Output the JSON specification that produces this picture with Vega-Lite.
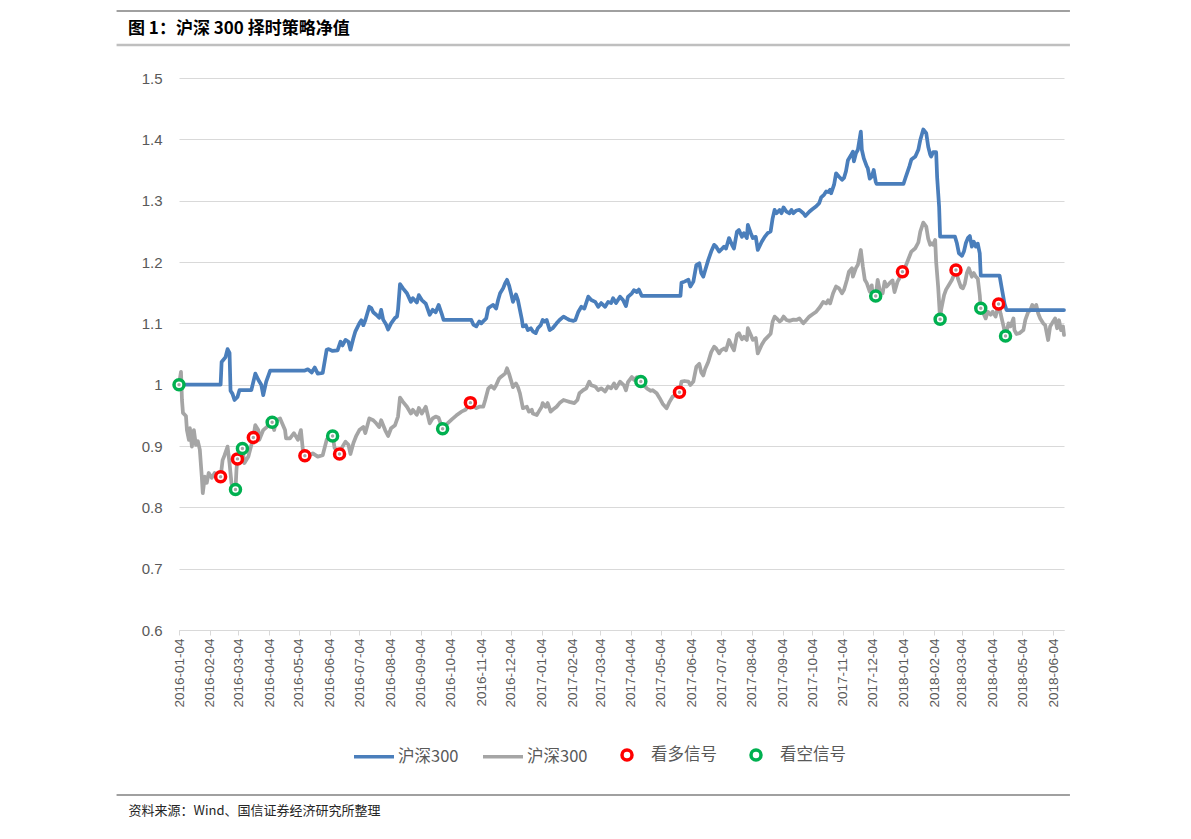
{
  "$schema": "https://vega.github.io/schema/vega-lite/v6.json",
  "width": 885,
  "height": 552,
  "autosize": {"type": "none"},
  "padding": {"left": 179, "top": 78, "right": 127, "bottom": 209},
  "background": "white",
  "title": {
    "text": "图 1：沪深 300 择时策略净值",
    "anchor": "start",
    "frame": "group",
    "dx": -51,
    "offset": 0,
    "dy": 28,
    "font": "Noto Sans CJK SC",
    "fontSize": 17,
    "fontWeight": "bold",
    "color": "#000000"
  },
  "datasets": {
    "strategy": [
      {"date": "2016-01-04", "value": 1.0}, {"date": "2016-02-15", "value": 1.0}, {"date": "2016-02-16", "value": 1.037}, {"date": "2016-02-20", "value": 1.045}, {"date": "2016-02-22", "value": 1.058}, {"date": "2016-02-24", "value": 1.052}, {"date": "2016-02-25", "value": 0.99}, {"date": "2016-02-27", "value": 0.985}, {"date": "2016-02-29", "value": 0.975}, {"date": "2016-03-03", "value": 0.98}, {"date": "2016-03-05", "value": 0.991}, {"date": "2016-03-17", "value": 0.991}, {"date": "2016-03-21", "value": 1.018}, {"date": "2016-03-24", "value": 1.008}, {"date": "2016-03-27", "value": 1.0}, {"date": "2016-03-29", "value": 0.983}, {"date": "2016-04-01", "value": 1.005}, {"date": "2016-04-05", "value": 1.023}, {"date": "2016-05-10", "value": 1.023}, {"date": "2016-05-13", "value": 1.025}, {"date": "2016-05-17", "value": 1.02}, {"date": "2016-05-20", "value": 1.028}, {"date": "2016-05-23", "value": 1.018}, {"date": "2016-05-28", "value": 1.019}, {"date": "2016-06-01", "value": 1.057}, {"date": "2016-06-03", "value": 1.058}, {"date": "2016-06-07", "value": 1.055}, {"date": "2016-06-12", "value": 1.056}, {"date": "2016-06-15", "value": 1.07}, {"date": "2016-06-17", "value": 1.064}, {"date": "2016-06-20", "value": 1.073}, {"date": "2016-06-23", "value": 1.07}, {"date": "2016-06-25", "value": 1.057}, {"date": "2016-06-28", "value": 1.076}, {"date": "2016-06-30", "value": 1.087}, {"date": "2016-07-04", "value": 1.1}, {"date": "2016-07-06", "value": 1.105}, {"date": "2016-07-08", "value": 1.097}, {"date": "2016-07-10", "value": 1.105}, {"date": "2016-07-14", "value": 1.127}, {"date": "2016-07-16", "value": 1.125}, {"date": "2016-07-18", "value": 1.118}, {"date": "2016-07-21", "value": 1.114}, {"date": "2016-07-24", "value": 1.109}, {"date": "2016-07-26", "value": 1.122}, {"date": "2016-07-28", "value": 1.106}, {"date": "2016-07-31", "value": 1.098}, {"date": "2016-08-02", "value": 1.09}, {"date": "2016-08-05", "value": 1.1}, {"date": "2016-08-09", "value": 1.109}, {"date": "2016-08-11", "value": 1.111}, {"date": "2016-08-12", "value": 1.122}, {"date": "2016-08-14", "value": 1.164}, {"date": "2016-08-17", "value": 1.157}, {"date": "2016-08-21", "value": 1.149}, {"date": "2016-08-25", "value": 1.135}, {"date": "2016-08-27", "value": 1.141}, {"date": "2016-08-31", "value": 1.134}, {"date": "2016-09-02", "value": 1.146}, {"date": "2016-09-05", "value": 1.138}, {"date": "2016-09-09", "value": 1.132}, {"date": "2016-09-13", "value": 1.114}, {"date": "2016-09-16", "value": 1.122}, {"date": "2016-09-19", "value": 1.118}, {"date": "2016-09-22", "value": 1.13}, {"date": "2016-09-25", "value": 1.116}, {"date": "2016-09-27", "value": 1.1055}, {"date": "2016-10-25", "value": 1.1055}, {"date": "2016-10-27", "value": 1.098}, {"date": "2016-10-30", "value": 1.095}, {"date": "2016-11-02", "value": 1.103}, {"date": "2016-11-04", "value": 1.1}, {"date": "2016-11-07", "value": 1.105}, {"date": "2016-11-09", "value": 1.108}, {"date": "2016-11-11", "value": 1.1245}, {"date": "2016-11-13", "value": 1.127}, {"date": "2016-11-16", "value": 1.13}, {"date": "2016-11-19", "value": 1.124}, {"date": "2016-11-21", "value": 1.138}, {"date": "2016-11-23", "value": 1.149}, {"date": "2016-11-26", "value": 1.157}, {"date": "2016-11-28", "value": 1.165}, {"date": "2016-11-30", "value": 1.171}, {"date": "2016-12-02", "value": 1.162}, {"date": "2016-12-04", "value": 1.149}, {"date": "2016-12-06", "value": 1.135}, {"date": "2016-12-09", "value": 1.147}, {"date": "2016-12-11", "value": 1.138}, {"date": "2016-12-13", "value": 1.122}, {"date": "2016-12-15", "value": 1.106}, {"date": "2016-12-16", "value": 1.095}, {"date": "2016-12-19", "value": 1.097}, {"date": "2016-12-21", "value": 1.089}, {"date": "2016-12-24", "value": 1.092}, {"date": "2016-12-26", "value": 1.087}, {"date": "2016-12-29", "value": 1.084}, {"date": "2016-12-31", "value": 1.092}, {"date": "2017-01-03", "value": 1.097}, {"date": "2017-01-05", "value": 1.1055}, {"date": "2017-01-07", "value": 1.103}, {"date": "2017-01-09", "value": 1.1055}, {"date": "2017-01-12", "value": 1.089}, {"date": "2017-01-15", "value": 1.092}, {"date": "2017-01-19", "value": 1.1}, {"date": "2017-01-22", "value": 1.1055}, {"date": "2017-01-26", "value": 1.111}, {"date": "2017-01-29", "value": 1.108}, {"date": "2017-02-01", "value": 1.1055}, {"date": "2017-02-05", "value": 1.104}, {"date": "2017-02-07", "value": 1.1055}, {"date": "2017-02-10", "value": 1.119}, {"date": "2017-02-13", "value": 1.127}, {"date": "2017-02-16", "value": 1.124}, {"date": "2017-02-20", "value": 1.1435}, {"date": "2017-02-23", "value": 1.138}, {"date": "2017-02-27", "value": 1.135}, {"date": "2017-03-02", "value": 1.127}, {"date": "2017-03-05", "value": 1.133}, {"date": "2017-03-09", "value": 1.127}, {"date": "2017-03-12", "value": 1.135}, {"date": "2017-03-15", "value": 1.133}, {"date": "2017-03-17", "value": 1.141}, {"date": "2017-03-20", "value": 1.133}, {"date": "2017-03-24", "value": 1.1435}, {"date": "2017-03-27", "value": 1.138}, {"date": "2017-03-30", "value": 1.128}, {"date": "2017-04-01", "value": 1.143}, {"date": "2017-04-05", "value": 1.149}, {"date": "2017-04-07", "value": 1.154}, {"date": "2017-04-10", "value": 1.151}, {"date": "2017-04-12", "value": 1.155}, {"date": "2017-04-15", "value": 1.1446}, {"date": "2017-05-24", "value": 1.1446}, {"date": "2017-05-25", "value": 1.166}, {"date": "2017-05-28", "value": 1.168}, {"date": "2017-06-01", "value": 1.171}, {"date": "2017-06-03", "value": 1.16}, {"date": "2017-06-06", "value": 1.168}, {"date": "2017-06-09", "value": 1.195}, {"date": "2017-06-12", "value": 1.198}, {"date": "2017-06-14", "value": 1.182}, {"date": "2017-06-16", "value": 1.176}, {"date": "2017-06-18", "value": 1.187}, {"date": "2017-06-21", "value": 1.203}, {"date": "2017-06-24", "value": 1.217}, {"date": "2017-06-27", "value": 1.228}, {"date": "2017-06-29", "value": 1.225}, {"date": "2017-07-02", "value": 1.217}, {"date": "2017-07-04", "value": 1.22}, {"date": "2017-07-07", "value": 1.225}, {"date": "2017-07-09", "value": 1.222}, {"date": "2017-07-12", "value": 1.239}, {"date": "2017-07-15", "value": 1.228}, {"date": "2017-07-17", "value": 1.222}, {"date": "2017-07-20", "value": 1.2495}, {"date": "2017-07-22", "value": 1.252}, {"date": "2017-07-25", "value": 1.241}, {"date": "2017-07-27", "value": 1.247}, {"date": "2017-07-30", "value": 1.239}, {"date": "2017-07-31", "value": 1.2604}, {"date": "2017-08-03", "value": 1.247}, {"date": "2017-08-05", "value": 1.239}, {"date": "2017-08-08", "value": 1.241}, {"date": "2017-08-10", "value": 1.2197}, {"date": "2017-08-14", "value": 1.233}, {"date": "2017-08-17", "value": 1.241}, {"date": "2017-08-20", "value": 1.247}, {"date": "2017-08-23", "value": 1.25}, {"date": "2017-08-25", "value": 1.2712}, {"date": "2017-08-27", "value": 1.285}, {"date": "2017-08-29", "value": 1.2795}, {"date": "2017-09-01", "value": 1.285}, {"date": "2017-09-03", "value": 1.2795}, {"date": "2017-09-05", "value": 1.289}, {"date": "2017-09-08", "value": 1.282}, {"date": "2017-09-11", "value": 1.2795}, {"date": "2017-09-13", "value": 1.285}, {"date": "2017-09-15", "value": 1.2795}, {"date": "2017-09-18", "value": 1.284}, {"date": "2017-09-21", "value": 1.285}, {"date": "2017-09-25", "value": 1.2795}, {"date": "2017-09-27", "value": 1.275}, {"date": "2017-10-01", "value": 1.282}, {"date": "2017-10-04", "value": 1.286}, {"date": "2017-10-08", "value": 1.291}, {"date": "2017-10-11", "value": 1.296}, {"date": "2017-10-13", "value": 1.3055}, {"date": "2017-10-16", "value": 1.31}, {"date": "2017-10-18", "value": 1.315}, {"date": "2017-10-20", "value": 1.314}, {"date": "2017-10-22", "value": 1.318}, {"date": "2017-10-23", "value": 1.312}, {"date": "2017-10-26", "value": 1.326}, {"date": "2017-10-28", "value": 1.3446}, {"date": "2017-10-31", "value": 1.339}, {"date": "2017-11-03", "value": 1.334}, {"date": "2017-11-05", "value": 1.337}, {"date": "2017-11-07", "value": 1.348}, {"date": "2017-11-09", "value": 1.366}, {"date": "2017-11-12", "value": 1.374}, {"date": "2017-11-14", "value": 1.38}, {"date": "2017-11-15", "value": 1.364}, {"date": "2017-11-17", "value": 1.377}, {"date": "2017-11-19", "value": 1.383}, {"date": "2017-11-22", "value": 1.4125}, {"date": "2017-11-23", "value": 1.383}, {"date": "2017-11-25", "value": 1.369}, {"date": "2017-11-28", "value": 1.356}, {"date": "2017-11-29", "value": 1.353}, {"date": "2017-12-01", "value": 1.336}, {"date": "2017-12-03", "value": 1.339}, {"date": "2017-12-05", "value": 1.35}, {"date": "2017-12-07", "value": 1.331}, {"date": "2017-12-08", "value": 1.3272}, {"date": "2018-01-04", "value": 1.3272}, {"date": "2018-01-06", "value": 1.337}, {"date": "2018-01-10", "value": 1.356}, {"date": "2018-01-12", "value": 1.367}, {"date": "2018-01-16", "value": 1.372}, {"date": "2018-01-19", "value": 1.383}, {"date": "2018-01-21", "value": 1.399}, {"date": "2018-01-24", "value": 1.416}, {"date": "2018-01-27", "value": 1.41}, {"date": "2018-01-29", "value": 1.388}, {"date": "2018-01-31", "value": 1.375}, {"date": "2018-02-01", "value": 1.372}, {"date": "2018-02-03", "value": 1.379}, {"date": "2018-02-06", "value": 1.379}, {"date": "2018-02-07", "value": 1.338}, {"date": "2018-02-09", "value": 1.29}, {"date": "2018-02-10", "value": 1.2413}, {"date": "2018-02-25", "value": 1.2413}, {"date": "2018-02-27", "value": 1.23}, {"date": "2018-03-01", "value": 1.214}, {"date": "2018-03-04", "value": 1.21}, {"date": "2018-03-06", "value": 1.217}, {"date": "2018-03-08", "value": 1.231}, {"date": "2018-03-10", "value": 1.239}, {"date": "2018-03-12", "value": 1.2424}, {"date": "2018-03-14", "value": 1.225}, {"date": "2018-03-16", "value": 1.233}, {"date": "2018-03-18", "value": 1.225}, {"date": "2018-03-20", "value": 1.23}, {"date": "2018-03-22", "value": 1.214}, {"date": "2018-03-23", "value": 1.1777}, {"date": "2018-04-11", "value": 1.1777}, {"date": "2018-04-13", "value": 1.159}, {"date": "2018-04-16", "value": 1.132}, {"date": "2018-04-18", "value": 1.1217}, {"date": "2018-06-15", "value": 1.1217}
    ],
    "csi300": [
      {"date": "2016-01-04", "value": 1.0}, {"date": "2016-01-06", "value": 1.021}, {"date": "2016-01-07", "value": 0.975}, {"date": "2016-01-08", "value": 0.954}, {"date": "2016-01-11", "value": 0.949}, {"date": "2016-01-12", "value": 0.926}, {"date": "2016-01-14", "value": 0.91}, {"date": "2016-01-15", "value": 0.929}, {"date": "2016-01-17", "value": 0.899}, {"date": "2016-01-19", "value": 0.926}, {"date": "2016-01-21", "value": 0.902}, {"date": "2016-01-23", "value": 0.908}, {"date": "2016-01-25", "value": 0.894}, {"date": "2016-01-27", "value": 0.85}, {"date": "2016-01-28", "value": 0.823}, {"date": "2016-01-30", "value": 0.85}, {"date": "2016-02-01", "value": 0.84}, {"date": "2016-02-03", "value": 0.856}, {"date": "2016-02-06", "value": 0.848}, {"date": "2016-02-09", "value": 0.856}, {"date": "2016-02-12", "value": 0.85}, {"date": "2016-02-15", "value": 0.85}, {"date": "2016-02-17", "value": 0.877}, {"date": "2016-02-19", "value": 0.885}, {"date": "2016-02-22", "value": 0.899}, {"date": "2016-02-24", "value": 0.872}, {"date": "2016-02-26", "value": 0.839}, {"date": "2016-03-01", "value": 0.829}, {"date": "2016-03-02", "value": 0.862}, {"date": "2016-03-03", "value": 0.879}, {"date": "2016-03-05", "value": 0.885}, {"date": "2016-03-08", "value": 0.896}, {"date": "2016-03-10", "value": 0.872}, {"date": "2016-03-14", "value": 0.883}, {"date": "2016-03-19", "value": 0.914}, {"date": "2016-03-21", "value": 0.934}, {"date": "2016-03-24", "value": 0.926}, {"date": "2016-03-25", "value": 0.91}, {"date": "2016-03-29", "value": 0.926}, {"date": "2016-04-07", "value": 0.9386}, {"date": "2016-04-09", "value": 0.926}, {"date": "2016-04-11", "value": 0.942}, {"date": "2016-04-15", "value": 0.945}, {"date": "2016-04-20", "value": 0.926}, {"date": "2016-04-21", "value": 0.9125}, {"date": "2016-04-25", "value": 0.9125}, {"date": "2016-04-29", "value": 0.921}, {"date": "2016-05-03", "value": 0.91}, {"date": "2016-05-06", "value": 0.926}, {"date": "2016-05-08", "value": 0.8935}, {"date": "2016-05-10", "value": 0.884}, {"date": "2016-05-15", "value": 0.885}, {"date": "2016-05-18", "value": 0.888}, {"date": "2016-05-23", "value": 0.8826}, {"date": "2016-05-28", "value": 0.885}, {"date": "2016-06-01", "value": 0.91}, {"date": "2016-06-03", "value": 0.915}, {"date": "2016-06-07", "value": 0.9163}, {"date": "2016-06-09", "value": 0.897}, {"date": "2016-06-14", "value": 0.887}, {"date": "2016-06-17", "value": 0.899}, {"date": "2016-06-20", "value": 0.907}, {"date": "2016-06-23", "value": 0.902}, {"date": "2016-06-25", "value": 0.887}, {"date": "2016-06-28", "value": 0.905}, {"date": "2016-07-01", "value": 0.917}, {"date": "2016-07-04", "value": 0.926}, {"date": "2016-07-08", "value": 0.931}, {"date": "2016-07-10", "value": 0.921}, {"date": "2016-07-14", "value": 0.945}, {"date": "2016-07-18", "value": 0.942}, {"date": "2016-07-21", "value": 0.937}, {"date": "2016-07-24", "value": 0.931}, {"date": "2016-07-26", "value": 0.942}, {"date": "2016-07-30", "value": 0.926}, {"date": "2016-08-02", "value": 0.9163}, {"date": "2016-08-05", "value": 0.929}, {"date": "2016-08-09", "value": 0.934}, {"date": "2016-08-12", "value": 0.948}, {"date": "2016-08-14", "value": 0.979}, {"date": "2016-08-17", "value": 0.972}, {"date": "2016-08-21", "value": 0.964}, {"date": "2016-08-25", "value": 0.953}, {"date": "2016-08-27", "value": 0.959}, {"date": "2016-08-31", "value": 0.951}, {"date": "2016-09-02", "value": 0.962}, {"date": "2016-09-05", "value": 0.953}, {"date": "2016-09-09", "value": 0.964}, {"date": "2016-09-13", "value": 0.937}, {"date": "2016-09-16", "value": 0.945}, {"date": "2016-09-19", "value": 0.948}, {"date": "2016-09-22", "value": 0.946}, {"date": "2016-09-26", "value": 0.928}, {"date": "2016-10-01", "value": 0.937}, {"date": "2016-10-05", "value": 0.943}, {"date": "2016-10-10", "value": 0.95}, {"date": "2016-10-15", "value": 0.956}, {"date": "2016-10-19", "value": 0.959}, {"date": "2016-10-24", "value": 0.9707}, {"date": "2016-10-28", "value": 0.964}, {"date": "2016-10-30", "value": 0.9617}, {"date": "2016-11-02", "value": 0.964}, {"date": "2016-11-06", "value": 0.964}, {"date": "2016-11-08", "value": 0.975}, {"date": "2016-11-11", "value": 0.9935}, {"date": "2016-11-14", "value": 0.998}, {"date": "2016-11-17", "value": 0.9935}, {"date": "2016-11-19", "value": 0.999}, {"date": "2016-11-22", "value": 1.01}, {"date": "2016-11-24", "value": 1.013}, {"date": "2016-11-28", "value": 1.018}, {"date": "2016-11-30", "value": 1.0267}, {"date": "2016-12-02", "value": 1.018}, {"date": "2016-12-04", "value": 1.007}, {"date": "2016-12-06", "value": 0.996}, {"date": "2016-12-09", "value": 1.002}, {"date": "2016-12-11", "value": 0.996}, {"date": "2016-12-13", "value": 0.986}, {"date": "2016-12-15", "value": 0.97}, {"date": "2016-12-16", "value": 0.9617}, {"date": "2016-12-20", "value": 0.964}, {"date": "2016-12-22", "value": 0.956}, {"date": "2016-12-25", "value": 0.959}, {"date": "2016-12-26", "value": 0.953}, {"date": "2016-12-30", "value": 0.9506}, {"date": "2017-01-01", "value": 0.956}, {"date": "2017-01-04", "value": 0.964}, {"date": "2017-01-05", "value": 0.97}, {"date": "2017-01-08", "value": 0.964}, {"date": "2017-01-10", "value": 0.97}, {"date": "2017-01-13", "value": 0.956}, {"date": "2017-01-15", "value": 0.959}, {"date": "2017-01-19", "value": 0.964}, {"date": "2017-01-22", "value": 0.97}, {"date": "2017-01-26", "value": 0.975}, {"date": "2017-01-30", "value": 0.973}, {"date": "2017-02-01", "value": 0.972}, {"date": "2017-02-06", "value": 0.97}, {"date": "2017-02-09", "value": 0.975}, {"date": "2017-02-11", "value": 0.986}, {"date": "2017-02-15", "value": 0.9913}, {"date": "2017-02-18", "value": 0.994}, {"date": "2017-02-21", "value": 1.005}, {"date": "2017-02-23", "value": 0.999}, {"date": "2017-02-27", "value": 0.997}, {"date": "2017-03-02", "value": 0.991}, {"date": "2017-03-05", "value": 0.994}, {"date": "2017-03-09", "value": 0.989}, {"date": "2017-03-12", "value": 0.997}, {"date": "2017-03-15", "value": 0.994}, {"date": "2017-03-18", "value": 1.002}, {"date": "2017-03-20", "value": 0.994}, {"date": "2017-03-24", "value": 1.005}, {"date": "2017-03-28", "value": 0.999}, {"date": "2017-03-30", "value": 0.991}, {"date": "2017-04-01", "value": 1.004}, {"date": "2017-04-05", "value": 1.0125}, {"date": "2017-04-07", "value": 1.008}, {"date": "2017-04-10", "value": 1.012}, {"date": "2017-04-14", "value": 1.005}, {"date": "2017-04-17", "value": 0.9995}, {"date": "2017-04-20", "value": 0.994}, {"date": "2017-04-24", "value": 0.99}, {"date": "2017-04-26", "value": 0.991}, {"date": "2017-04-30", "value": 0.986}, {"date": "2017-05-03", "value": 0.978}, {"date": "2017-05-06", "value": 0.969}, {"date": "2017-05-10", "value": 0.9614}, {"date": "2017-05-13", "value": 0.972}, {"date": "2017-05-16", "value": 0.9804}, {"date": "2017-05-19", "value": 0.983}, {"date": "2017-05-23", "value": 0.9877}, {"date": "2017-05-25", "value": 1.005}, {"date": "2017-05-28", "value": 1.006}, {"date": "2017-06-01", "value": 1.005}, {"date": "2017-06-03", "value": 0.9995}, {"date": "2017-06-06", "value": 1.005}, {"date": "2017-06-09", "value": 1.029}, {"date": "2017-06-12", "value": 1.034}, {"date": "2017-06-14", "value": 1.02}, {"date": "2017-06-16", "value": 1.015}, {"date": "2017-06-18", "value": 1.026}, {"date": "2017-06-21", "value": 1.037}, {"date": "2017-06-24", "value": 1.053}, {"date": "2017-06-27", "value": 1.062}, {"date": "2017-06-29", "value": 1.059}, {"date": "2017-07-02", "value": 1.051}, {"date": "2017-07-04", "value": 1.056}, {"date": "2017-07-07", "value": 1.059}, {"date": "2017-07-09", "value": 1.056}, {"date": "2017-07-12", "value": 1.0728}, {"date": "2017-07-15", "value": 1.062}, {"date": "2017-07-17", "value": 1.056}, {"date": "2017-07-20", "value": 1.081}, {"date": "2017-07-22", "value": 1.084}, {"date": "2017-07-25", "value": 1.074}, {"date": "2017-07-27", "value": 1.078}, {"date": "2017-07-30", "value": 1.073}, {"date": "2017-07-31", "value": 1.092}, {"date": "2017-08-03", "value": 1.081}, {"date": "2017-08-05", "value": 1.073}, {"date": "2017-08-08", "value": 1.076}, {"date": "2017-08-10", "value": 1.051}, {"date": "2017-08-14", "value": 1.065}, {"date": "2017-08-17", "value": 1.073}, {"date": "2017-08-20", "value": 1.078}, {"date": "2017-08-23", "value": 1.083}, {"date": "2017-08-25", "value": 1.1027}, {"date": "2017-08-27", "value": 1.111}, {"date": "2017-08-29", "value": 1.108}, {"date": "2017-09-01", "value": 1.103}, {"date": "2017-09-03", "value": 1.1055}, {"date": "2017-09-05", "value": 1.111}, {"date": "2017-09-08", "value": 1.1055}, {"date": "2017-09-11", "value": 1.104}, {"date": "2017-09-15", "value": 1.106}, {"date": "2017-09-18", "value": 1.1055}, {"date": "2017-09-21", "value": 1.108}, {"date": "2017-09-25", "value": 1.1}, {"date": "2017-09-28", "value": 1.1055}, {"date": "2017-10-01", "value": 1.111}, {"date": "2017-10-05", "value": 1.1155}, {"date": "2017-10-08", "value": 1.119}, {"date": "2017-10-12", "value": 1.127}, {"date": "2017-10-15", "value": 1.135}, {"date": "2017-10-18", "value": 1.1325}, {"date": "2017-10-20", "value": 1.1375}, {"date": "2017-10-22", "value": 1.1325}, {"date": "2017-10-25", "value": 1.149}, {"date": "2017-10-28", "value": 1.16}, {"date": "2017-10-31", "value": 1.157}, {"date": "2017-11-03", "value": 1.149}, {"date": "2017-11-05", "value": 1.1545}, {"date": "2017-11-08", "value": 1.171}, {"date": "2017-11-10", "value": 1.1843}, {"date": "2017-11-13", "value": 1.19}, {"date": "2017-11-14", "value": 1.176}, {"date": "2017-11-17", "value": 1.19}, {"date": "2017-11-19", "value": 1.1955}, {"date": "2017-11-22", "value": 1.2196}, {"date": "2017-11-24", "value": 1.193}, {"date": "2017-11-26", "value": 1.171}, {"date": "2017-11-28", "value": 1.1655}, {"date": "2017-12-01", "value": 1.1517}, {"date": "2017-12-03", "value": 1.162}, {"date": "2017-12-04", "value": 1.146}, {"date": "2017-12-07", "value": 1.1446}, {"date": "2017-12-09", "value": 1.171}, {"date": "2017-12-11", "value": 1.155}, {"date": "2017-12-14", "value": 1.149}, {"date": "2017-12-16", "value": 1.168}, {"date": "2017-12-18", "value": 1.16}, {"date": "2017-12-21", "value": 1.1655}, {"date": "2017-12-24", "value": 1.17}, {"date": "2017-12-26", "value": 1.151}, {"date": "2017-12-29", "value": 1.168}, {"date": "2017-12-31", "value": 1.1735}, {"date": "2018-01-03", "value": 1.184}, {"date": "2018-01-06", "value": 1.1925}, {"date": "2018-01-10", "value": 1.209}, {"date": "2018-01-12", "value": 1.217}, {"date": "2018-01-16", "value": 1.2225}, {"date": "2018-01-19", "value": 1.2318}, {"date": "2018-01-21", "value": 1.2495}, {"date": "2018-01-24", "value": 1.2643}, {"date": "2018-01-27", "value": 1.2576}, {"date": "2018-01-29", "value": 1.238}, {"date": "2018-01-31", "value": 1.228}, {"date": "2018-02-01", "value": 1.2305}, {"date": "2018-02-03", "value": 1.228}, {"date": "2018-02-05", "value": 1.236}, {"date": "2018-02-06", "value": 1.2}, {"date": "2018-02-08", "value": 1.16}, {"date": "2018-02-10", "value": 1.1066}, {"date": "2018-02-11", "value": 1.122}, {"date": "2018-02-14", "value": 1.146}, {"date": "2018-02-16", "value": 1.155}, {"date": "2018-02-19", "value": 1.163}, {"date": "2018-02-22", "value": 1.171}, {"date": "2018-02-26", "value": 1.187}, {"date": "2018-02-28", "value": 1.173}, {"date": "2018-03-03", "value": 1.159}, {"date": "2018-03-05", "value": 1.157}, {"date": "2018-03-07", "value": 1.165}, {"date": "2018-03-09", "value": 1.182}, {"date": "2018-03-11", "value": 1.19}, {"date": "2018-03-14", "value": 1.176}, {"date": "2018-03-16", "value": 1.182}, {"date": "2018-03-18", "value": 1.176}, {"date": "2018-03-20", "value": 1.173}, {"date": "2018-03-22", "value": 1.146}, {"date": "2018-03-23", "value": 1.1245}, {"date": "2018-03-25", "value": 1.119}, {"date": "2018-03-28", "value": 1.108}, {"date": "2018-03-30", "value": 1.119}, {"date": "2018-04-02", "value": 1.114}, {"date": "2018-04-04", "value": 1.119}, {"date": "2018-04-07", "value": 1.111}, {"date": "2018-04-10", "value": 1.1316}, {"date": "2018-04-12", "value": 1.116}, {"date": "2018-04-15", "value": 1.095}, {"date": "2018-04-17", "value": 1.0794}, {"date": "2018-04-20", "value": 1.1}, {"date": "2018-04-22", "value": 1.095}, {"date": "2018-04-25", "value": 1.108}, {"date": "2018-04-26", "value": 1.089}, {"date": "2018-04-28", "value": 1.0826}, {"date": "2018-05-01", "value": 1.084}, {"date": "2018-05-05", "value": 1.089}, {"date": "2018-05-07", "value": 1.1055}, {"date": "2018-05-10", "value": 1.119}, {"date": "2018-05-12", "value": 1.1215}, {"date": "2018-05-14", "value": 1.13}, {"date": "2018-05-17", "value": 1.1215}, {"date": "2018-05-18", "value": 1.13}, {"date": "2018-05-20", "value": 1.116}, {"date": "2018-05-22", "value": 1.108}, {"date": "2018-05-25", "value": 1.1}, {"date": "2018-05-27", "value": 1.097}, {"date": "2018-05-28", "value": 1.089}, {"date": "2018-05-30", "value": 1.0728}, {"date": "2018-06-01", "value": 1.095}, {"date": "2018-06-03", "value": 1.1}, {"date": "2018-06-06", "value": 1.108}, {"date": "2018-06-08", "value": 1.092}, {"date": "2018-06-10", "value": 1.105}, {"date": "2018-06-12", "value": 1.089}, {"date": "2018-06-14", "value": 1.095}, {"date": "2018-06-15", "value": 1.081}
    ],
    "signals": [
      {"date": "2016-01-04", "value": 1.0, "signal": "看空信号"},
      {"date": "2016-02-15", "value": 0.85, "signal": "看多信号"},
      {"date": "2016-03-01", "value": 0.829, "signal": "看空信号"},
      {"date": "2016-03-03", "value": 0.879, "signal": "看多信号"},
      {"date": "2016-03-08", "value": 0.896, "signal": "看空信号"},
      {"date": "2016-03-19", "value": 0.914, "signal": "看多信号"},
      {"date": "2016-04-07", "value": 0.9386, "signal": "看空信号"},
      {"date": "2016-05-10", "value": 0.884, "signal": "看多信号"},
      {"date": "2016-06-07", "value": 0.9163, "signal": "看空信号"},
      {"date": "2016-06-14", "value": 0.887, "signal": "看多信号"},
      {"date": "2016-09-26", "value": 0.928, "signal": "看空信号"},
      {"date": "2016-10-24", "value": 0.9707, "signal": "看多信号"},
      {"date": "2017-04-14", "value": 1.005, "signal": "看空信号"},
      {"date": "2017-05-23", "value": 0.9877, "signal": "看多信号"},
      {"date": "2017-12-07", "value": 1.1446, "signal": "看空信号"},
      {"date": "2018-01-03", "value": 1.184, "signal": "看多信号"},
      {"date": "2018-02-10", "value": 1.1066, "signal": "看空信号"},
      {"date": "2018-02-26", "value": 1.187, "signal": "看多信号"},
      {"date": "2018-03-23", "value": 1.1245, "signal": "看空信号"},
      {"date": "2018-04-10", "value": 1.1316, "signal": "看多信号"},
      {"date": "2018-04-17", "value": 1.0794, "signal": "看空信号"}
    ]
  },
  "layer": [
    {
      "data": {"values": [{}]},
      "mark": {"type": "rule", "color": "#808080", "strokeWidth": 1.3},
      "encoding": {
        "x": {"datum": {"year": 2015, "month": 11, "date": 2, "utc": true}, "type": "temporal"},
        "x2": {"datum": {"year": 2018, "month": 6, "date": 21, "utc": true}},
        "y": {"datum": 1.6092, "type": "quantitative"}
      }
    },
    {
      "data": {"values": [{}]},
      "mark": {"type": "rule", "color": "#BFBFBF", "strokeWidth": 2.5},
      "encoding": {
        "x": {"datum": {"year": 2015, "month": 11, "date": 2, "utc": true}, "type": "temporal"},
        "x2": {"datum": {"year": 2018, "month": 6, "date": 21, "utc": true}},
        "y": {"datum": 1.5538, "type": "quantitative"}
      }
    },
    {
      "data": {"values": [{}]},
      "mark": {"type": "rule", "color": "#808080", "strokeWidth": 1.3},
      "encoding": {
        "x": {"datum": {"year": 2015, "month": 11, "date": 2, "utc": true}, "type": "temporal"},
        "x2": {"datum": {"year": 2018, "month": 6, "date": 21, "utc": true}},
        "y": {"datum": 0.331, "type": "quantitative"}
      }
    },
    {
      "data": {"name": "csi300"},
      "mark": {"type": "line", "strokeWidth": 3.75, "strokeJoin": "round", "strokeCap": "round"},
      "encoding": {
        "x": {"field": "date", "type": "temporal"},
        "y": {"field": "value", "type": "quantitative"},
        "color": {"datum": "沪深300", "type": "nominal", "legend": {"title": null}}
      }
    },
    {
      "data": {"name": "strategy"},
      "mark": {"type": "line", "strokeWidth": 3.75, "strokeJoin": "round", "strokeCap": "round"},
      "encoding": {
        "x": {
          "field": "date",
          "type": "temporal",
          "scale": {
            "type": "utc",
            "domain": [
              {"year": 2016, "month": 1, "date": 4, "utc": true},
              {"year": 2018, "month": 6, "date": 15, "utc": true}
            ]
          },
          "axis": {
            "title": "资料来源：Wind、国信证券经济研究所整理",
            "titleX": -51,
            "titleY": 180,
            "titleAlign": "left",
            "titleAnchor": "start",
            "titleBaseline": "middle",
            "titleAngle": 0,
            "titleFont": "Noto Sans CJK SC",
            "titleFontSize": 13,
            "titleFontWeight": "normal",
            "titleColor": "#262626",
            "tickCount": 40,
            "values": [
              {"year": 2016, "month": 1, "date": 4, "utc": true}, {"year": 2016, "month": 2, "date": 4, "utc": true}, {"year": 2016, "month": 3, "date": 4, "utc": true}, {"year": 2016, "month": 4, "date": 4, "utc": true}, {"year": 2016, "month": 5, "date": 4, "utc": true}, {"year": 2016, "month": 6, "date": 4, "utc": true}, {"year": 2016, "month": 7, "date": 4, "utc": true}, {"year": 2016, "month": 8, "date": 4, "utc": true}, {"year": 2016, "month": 9, "date": 4, "utc": true}, {"year": 2016, "month": 10, "date": 4, "utc": true}, {"year": 2016, "month": 11, "date": 4, "utc": true}, {"year": 2016, "month": 12, "date": 4, "utc": true},
              {"year": 2017, "month": 1, "date": 4, "utc": true}, {"year": 2017, "month": 2, "date": 4, "utc": true}, {"year": 2017, "month": 3, "date": 4, "utc": true}, {"year": 2017, "month": 4, "date": 4, "utc": true}, {"year": 2017, "month": 5, "date": 4, "utc": true}, {"year": 2017, "month": 6, "date": 4, "utc": true}, {"year": 2017, "month": 7, "date": 4, "utc": true}, {"year": 2017, "month": 8, "date": 4, "utc": true}, {"year": 2017, "month": 9, "date": 4, "utc": true}, {"year": 2017, "month": 10, "date": 4, "utc": true}, {"year": 2017, "month": 11, "date": 4, "utc": true}, {"year": 2017, "month": 12, "date": 4, "utc": true},
              {"year": 2018, "month": 1, "date": 4, "utc": true}, {"year": 2018, "month": 2, "date": 4, "utc": true}, {"year": 2018, "month": 3, "date": 4, "utc": true}, {"year": 2018, "month": 4, "date": 4, "utc": true}, {"year": 2018, "month": 5, "date": 4, "utc": true}, {"year": 2018, "month": 6, "date": 4, "utc": true}
            ],
            "format": "%Y-%m-%d",
            "labelAngle": 270,
            "labelFont": "Liberation Sans",
            "labelFontSize": 13.5,
            "labelColor": "#595959",
            "labelPadding": 3,
            "labelOverlap": false,
            "labelFlush": false,
            "labelBound": false,
            "grid": false,
            "domainColor": "#D9D9D9",
            "domainWidth": 1,
            "tickColor": "#D9D9D9",
            "tickSize": 5,
            "tickWidth": 1
          }
        },
        "y": {
          "field": "value",
          "type": "quantitative",
          "scale": {"domain": [0.6, 1.5], "nice": false, "zero": false},
          "axis": {
            "title": null,
            "values": [0.6, 0.7, 0.8, 0.9, 1.0, 1.1, 1.2, 1.3, 1.4, 1.5],
            "tickCount": 20,
            "format": ".1~f",
            "domain": false,
            "ticks": false,
            "grid": true,
            "gridColor": "#D9D9D9",
            "gridWidth": 1,
            "labelFont": "Liberation Sans",
            "labelFontSize": 15,
            "labelColor": "#595959",
            "labelPadding": 17
          }
        },
        "color": {"datum": "策略净值", "type": "nominal", "legend": {"title": null}}
      }
    },
    {
      "data": {"name": "signals"},
      "mark": {"type": "point", "filled": false, "fill": "white", "strokeWidth": 3.5, "size": 1600, "opacity": 1},
      "encoding": {
        "x": {"field": "date", "type": "temporal"},
        "y": {"field": "value", "type": "quantitative"},
        "color": {
          "field": "signal",
          "type": "nominal",
          "scale": {
            "domain": ["策略净值", "沪深300", "看多信号", "看空信号"],
            "range": ["#4A7EBB", "#A5A5A5", "#FF0000", "#00B050"]
          },
          "legend": {
            "title": null,
            "orient": "none",
            "legendX": 173,
            "legendY": 655,
            "direction": "horizontal",
            "labelExpr": "datum.label == '策略净值' ? '沪深300' : datum.label"
          }
        },
        "shape": {
          "field": "signal",
          "type": "nominal",
          "scale": {
            "domain": ["策略净值", "沪深300", "看多信号", "看空信号"],
            "range": ["M-1,0H1", "M-1,0H1", "M0.25,0A0.25,0.25,0,1,1,-0.25,0A0.25,0.25,0,1,1,0.25,0Z", "M0.25,0A0.25,0.25,0,1,1,-0.25,0A0.25,0.25,0,1,1,0.25,0Z"]
          },
          "legend": {"title": null}
        }
      }
    },
    {
      "data": {"name": "signals"},
      "mark": {"type": "point", "filled": true, "color": "#A5A5A5", "size": 12, "opacity": 1},
      "encoding": {
        "x": {"field": "date", "type": "temporal"},
        "y": {"field": "value", "type": "quantitative"}
      }
    }
  ],
  "config": {
    "view": {"stroke": null},
    "legend": {
      "labelFont": "Noto Sans CJK SC",
      "labelFontSize": 16.5,
      "labelColor": "#595959",
      "symbolStrokeWidth": 3.5,
      "symbolSize": 1600,
      "columnPadding": 17,
      "labelOffset": 2,
      "symbolFillColor": "white"
    }
  }
}
